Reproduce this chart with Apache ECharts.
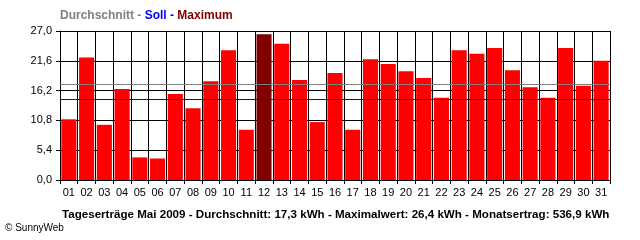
<!DOCTYPE html>
<html>
<head>
<meta charset="utf-8">
<script src="https://cdn.jsdelivr.net/npm/echarts@6/dist/echarts.min.js"></script>
<style>
html,body{margin:0;padding:0;background:#fff;}
#c{width:640px;height:240px;}
</style>
</head>
<body>
<div id="c"></div>
<script>
const days = ['01','02','03','04','05','06','07','08','09','10','11','12','13','14','15','16','17','18','19','20','21','22','23','24','25','26','27','28','29','30','31'];
const yields = [11.0,22.2,10.0,16.5,4.1,3.9,15.6,13.0,17.9,23.5,9.1,26.4,24.7,18.1,10.5,19.4,9.1,21.9,21.0,19.7,18.5,14.9,23.5,22.9,23.9,19.9,16.8,14.9,23.9,17.1,21.6];
const average = 17.3;
const target = 14.6;
const yTicks = [0, 5.4, 10.8, 16.2, 21.6, 27.0];
const footerText = 'Tageserträge Mai 2009 - Durchschnitt: 17,3 kWh - Maximalwert: 26,4 kWh - Monatsertrag: 536,9 kWh';
const copyrightText = '© SunnyWeb';

const maxVal = Math.max(...yields);
const barData = yields.map(v => v === maxVal ? {value: v, itemStyle: {color: '#800000'}} : v);
const FONT = 'Liberation Sans';

const chart = echarts.init(document.getElementById('c'), null, {renderer: 'canvas'});
chart.setOption({
  animation: false,
  backgroundColor: '#fff',
  title: [{
    left: 60, top: 10, padding: 0,
    text: '{a|Durchschnitt - }{b|Soll - }{c|Maximum}',
    textStyle: {
      rich: {
        a: {color: '#808080', fontFamily: FONT, fontWeight: 'bold', fontSize: 12},
        b: {color: '#0000ff', fontFamily: FONT, fontWeight: 'bold', fontSize: 12},
        c: {color: '#800000', fontFamily: FONT, fontWeight: 'bold', fontSize: 12}
      }
    }
  }, {
    left: 62, top: 209, padding: 0,
    text: footerText,
    textStyle: {color: '#000', fontFamily: FONT, fontWeight: 'bold', fontSize: 11.6}
  }, {
    left: 5, top: 223, padding: 0,
    text: copyrightText,
    textStyle: {color: '#000', fontFamily: FONT, fontWeight: 'normal', fontSize: 10}
  }],
  grid: {left: 60, right: 30, top: 31, bottom: 60, containLabel: false},
  xAxis: {
    type: 'category',
    data: days,
    boundaryGap: true,
    axisLine: {show: true, lineStyle: {color: '#000', width: 1}},
    axisTick: {show: true, length: 4, lineStyle: {color: '#000'}},
    axisLabel: {color: '#000', fontFamily: FONT, fontSize: 11, margin: 7, interval: 0},
    splitLine: {show: true, lineStyle: {color: '#000', width: 1}}
  },
  yAxis: {
    type: 'value',
    min: yTicks[0], max: yTicks[yTicks.length - 1], interval: 5.4,
    axisLine: {show: true, lineStyle: {color: '#000', width: 1}},
    axisTick: {show: true, length: 4, lineStyle: {color: '#000'}},
    axisLabel: {color: '#000', fontFamily: FONT, fontSize: 11, margin: 8,
      formatter: v => v.toFixed(1).replace('.', ',')},
    splitLine: {show: true, lineStyle: {color: '#000', width: 1}}
  },
  series: [{
    type: 'bar',
    data: barData,
    barCategoryGap: '15%',
    itemStyle: {color: '#ff0000'},
    markLine: {
      silent: true,
      symbol: 'none',
      z: 10,
      label: {show: false},
      data: [
        {yAxis: average, lineStyle: {color: '#808080', width: 1, type: 'solid'}},
        {yAxis: target, lineStyle: {color: '#0000ff', width: 1, type: 'solid'}}
      ]
    }
  }]
});
</script>
</body>
</html>
